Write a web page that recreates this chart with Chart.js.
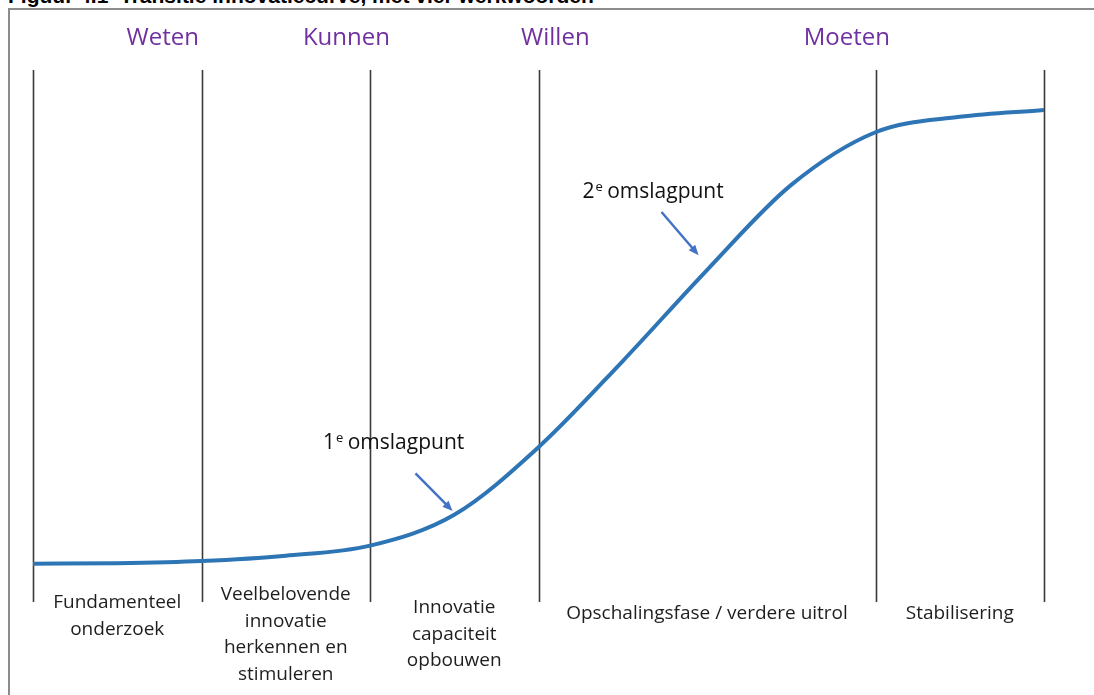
<!DOCTYPE html>
<html>
<head>
<meta charset="utf-8">
<script src="https://cdn.jsdelivr.net/npm/chart.js@4/dist/chart.umd.min.js"></script>
<style>
  html, body { margin: 0; padding: 0; background: #fff; }
  #wrap { position: relative; width: 1094px; height: 695px; overflow: hidden; }
  #caption {
    position: absolute; left: 8px; top: -16px; white-space: nowrap; line-height: 24px;
    font: bold 21px "Liberation Sans", Arial, sans-serif; color: #000;
  }
  #frame {
    position: absolute; left: 8px; top: 8px; width: 1200px; height: 800px;
    border-top: 2px solid #8c8c8c; border-left: 2px solid #8c8c8c;
  }
  canvas { position: absolute; left: 0; top: 0; }
</style>
</head>
<body>
<div id="wrap">
  <div id="caption">Figuur 4.1&nbsp; Transitie innovatiecurve, met vier werkwoorden</div>
  <div id="frame"></div>
  <canvas id="chart" width="1094" height="695"></canvas>
</div>
<script>
// curve (x in phase units, y in % of height)
const curveX = [0, 0.5, 1, 1.5, 2, 2.5, 3, 3.5, 4, 4.5, 5, 5.5, 6];
const curveY = [7.2, 7.3, 7.7, 8.7, 10.6, 16.4, 29.1, 45.3, 62.4, 78.4, 88.3, 91.2, 92.5];

// phase boundaries
const dividers = [0, 1, 2, 3, 5, 6];

// verbs on top
const verbs = ["Weten", "Kunnen", "Willen", "Moeten"];
const verbX = [0.77, 1.86, 3.1, 4.83];

// phase names below the chart
const phases = [
  ["Fundamenteel", "onderzoek"],
  ["Veelbelovende", "innovatie", "herkennen en", "stimuleren"],
  ["Innovatie", "capaciteit", "opbouwen"],
  ["Opschalingsfase / verdere uitrol"],
  ["Stabilisering"]
];
const phaseX = [0.5, 1.5, 2.5, 4.0, 5.5];
const phaseTop = [603, 595, 608, 614, 614];

// turning points
const turnLabels = ["1", "2"];
const turnText = [[2.14, 29.9], [3.68, 77.1]];
const turnArrowFrom = [[2.27, 24.2], [3.73, 73.3]];
const turnArrowTo = [[2.49, 17.1], [3.95, 65.2]];

const FONT = '"Open Sans", Lato, sans-serif';

const decorPlugin = {
  id: "decor",
  beforeDatasetsDraw(chart) {
    const { ctx, chartArea, scales } = chart;
    ctx.save();
    ctx.strokeStyle = "#3a3a3a";
    ctx.lineWidth = 1.6;
    dividers.forEach((d) => {
      const x = Math.round(scales.x.getPixelForValue(d)) + 0.5;
      ctx.beginPath();
      ctx.moveTo(x, chartArea.top);
      ctx.lineTo(x, chartArea.bottom);
      ctx.stroke();
    });
    ctx.restore();
  },
  afterDraw(chart) {
    const { ctx, scales } = chart;
    const xs = scales.x, ys = scales.y;
    ctx.save();
    ctx.textBaseline = "middle";
    ctx.textAlign = "center";

    ctx.fillStyle = "#7030a0";
    ctx.font = "24px " + FONT;
    verbs.forEach((v, i) => ctx.fillText(v, xs.getPixelForValue(verbX[i]), 38));

    ctx.fillStyle = "#1e1e1e";
    ctx.font = "19px " + FONT;
    phases.forEach((lines, i) => {
      lines.forEach((t, j) => {
        ctx.fillText(t, xs.getPixelForValue(phaseX[i]), phaseTop[i] + j * 26.5);
      });
    });

    // turning point labels with superscript e
    turnLabels.forEach((n, i) => {
      const cx = xs.getPixelForValue(turnText[i][0]);
      const cy = ys.getPixelForValue(turnText[i][1]);
      ctx.font = "21px " + FONT;
      const wN = ctx.measureText(n).width;
      const wRest = ctx.measureText(" omslagpunt").width;
      ctx.font = "13px " + FONT;
      const wE = ctx.measureText("e").width;
      let x = cx - (wN + wE + wRest) / 2;
      ctx.textAlign = "left";
      ctx.fillStyle = "#111";
      ctx.font = "21px " + FONT;
      ctx.fillText(n, x, cy);
      x += wN;
      ctx.font = "13px " + FONT;
      ctx.fillText("e", x + 1, cy - 5);
      x += wE;
      ctx.font = "21px " + FONT;
      ctx.fillText(" omslagpunt", x, cy);
      ctx.textAlign = "center";

      // arrow
      const x1 = xs.getPixelForValue(turnArrowFrom[i][0]);
      const y1 = ys.getPixelForValue(turnArrowFrom[i][1]);
      const x2 = xs.getPixelForValue(turnArrowTo[i][0]);
      const y2 = ys.getPixelForValue(turnArrowTo[i][1]);
      const ang = Math.atan2(y2 - y1, x2 - x1);
      const head = 11;
      ctx.strokeStyle = "#4472c4";
      ctx.fillStyle = "#4472c4";
      ctx.lineWidth = 2.5;
      ctx.beginPath();
      ctx.moveTo(x1, y1);
      ctx.lineTo(x2 - Math.cos(ang) * head * 0.8, y2 - Math.sin(ang) * head * 0.8);
      ctx.stroke();
      ctx.beginPath();
      ctx.moveTo(x2, y2);
      ctx.lineTo(x2 - head * Math.cos(ang - 0.4), y2 - head * Math.sin(ang - 0.4));
      ctx.lineTo(x2 - head * Math.cos(ang + 0.4), y2 - head * Math.sin(ang + 0.4));
      ctx.closePath();
      ctx.fill();
    });
    ctx.restore();
  }
};

new Chart(document.getElementById("chart"), {
  type: "line",
  data: {
    datasets: [{
      data: curveX.map((x, i) => ({ x, y: curveY[i] })),
      borderColor: "#2e75b6",
      borderWidth: 4,
      pointRadius: 0,
      cubicInterpolationMode: "monotone",
      fill: false
    }]
  },
  options: {
    responsive: false,
    animation: false,
    layout: { padding: { left: 33, right: 50, top: 70, bottom: 93 } },
    plugins: { legend: { display: false }, tooltip: { enabled: false } },
    scales: {
      x: { type: "linear", min: 0, max: 6, display: false },
      y: { min: 0, max: 100, display: false }
    }
  },
  plugins: [decorPlugin]
});
</script>
</body>
</html>
